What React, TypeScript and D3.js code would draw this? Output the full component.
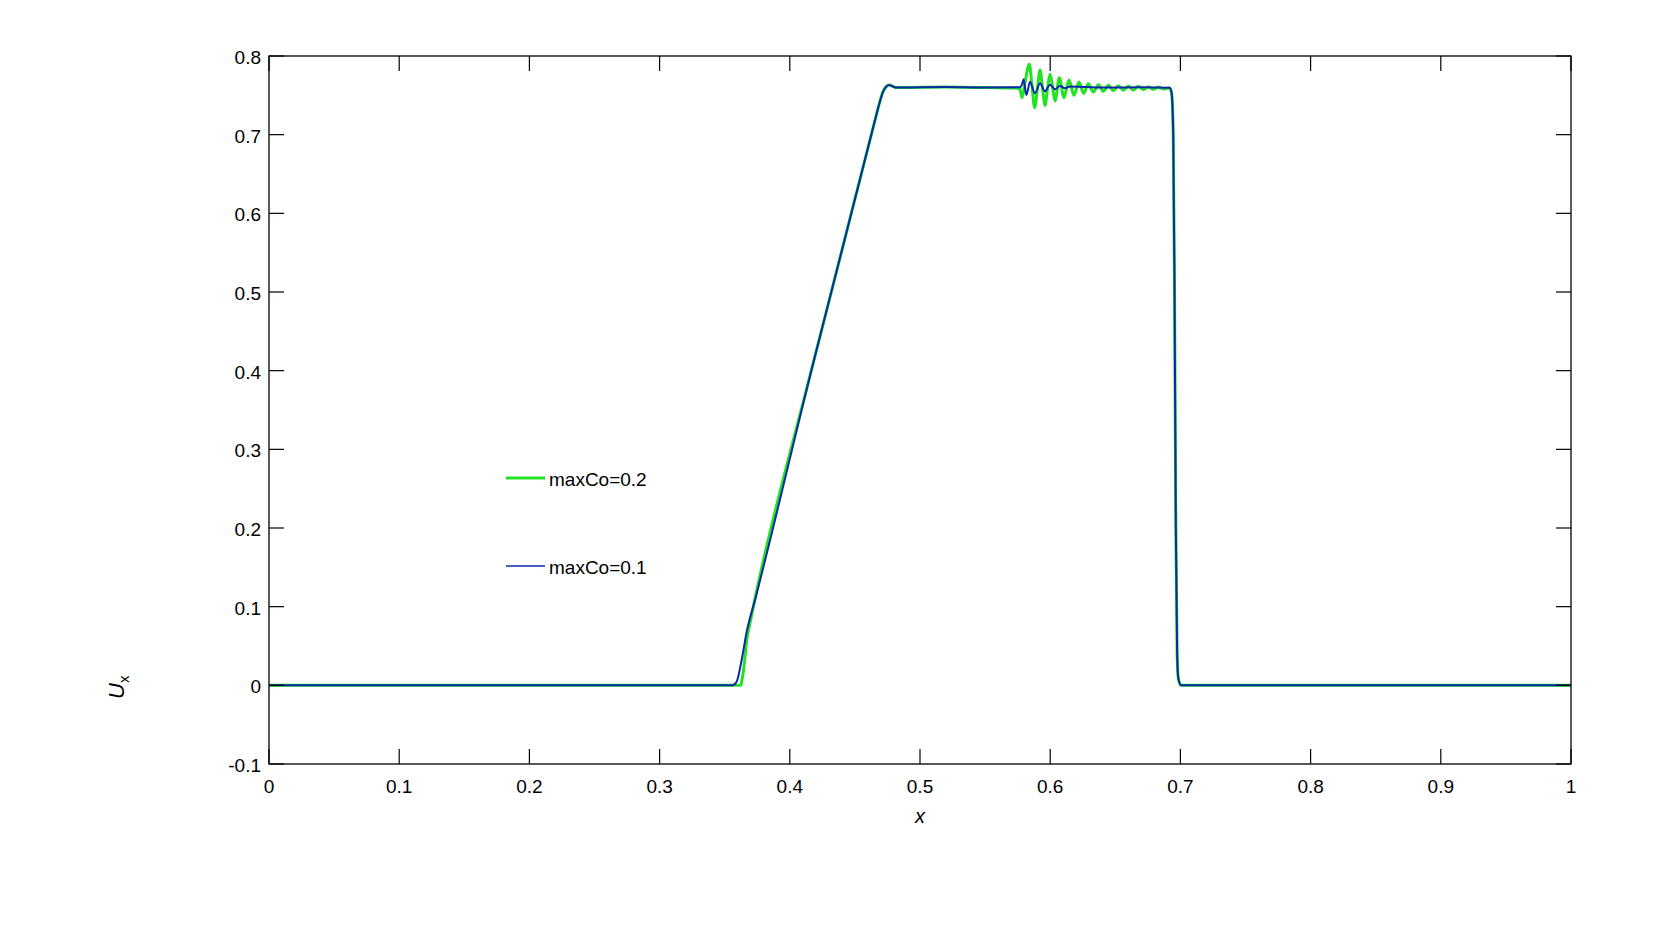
import React from "react";
import * as d3 from "d3";

const xTicks = [0, 0.1, 0.2, 0.3, 0.4, 0.5, 0.6, 0.7, 0.8, 0.9, 1];
const yTicks = [-0.1, 0, 0.1, 0.2, 0.3, 0.4, 0.5, 0.6, 0.7, 0.8];
const xTickLabels = ["0", "0.1", "0.2", "0.3", "0.4", "0.5", "0.6", "0.7", "0.8", "0.9", "1"];
const yTickLabels = ["-0.1", "0", "0.1", "0.2", "0.3", "0.4", "0.5", "0.6", "0.7", "0.8"];

const seriesNames = ["maxCo=0.2", "maxCo=0.1"];

// maxCo=0.2 (green)
const greenX = [
  0, 0.36, 0.3625, 0.363, 0.3643, 0.3656, 0.3669, 0.3694, 0.372, 0.4165, 0.466, 0.469, 0.4715, 0.474, 0.4765,
  0.479, 0.482, 0.49, 0.52, 0.55, 0.57425, 0.5768, 0.57834, 0.58065, 0.58397, 0.58602, 0.58807, 0.59012,
  0.59217, 0.59421, 0.59601, 0.59805, 0.59985, 0.6019, 0.60369, 0.60702, 0.6106, 0.61444, 0.61828, 0.62212,
  0.6257, 0.62929, 0.63313, 0.63697, 0.64081, 0.64465, 0.64849, 0.65233, 0.65617, 0.66001, 0.66385, 0.66769,
  0.67153, 0.67537, 0.67921, 0.68305, 0.68689, 0.69073, 0.692, 0.6933, 0.6945, 0.6955, 0.6965, 0.6975,
  0.6985, 0.7005, 1,
];
const greenY = [
  0, 0, 0.0005, 0.0046, 0.0173, 0.0364, 0.0576, 0.0788, 0.1, 0.4, 0.722, 0.741, 0.754, 0.761, 0.763,
  0.7615, 0.7598, 0.76, 0.7605, 0.7598, 0.7593, 0.7576, 0.747, 0.7661, 0.7894, 0.7619, 0.7343, 0.7576,
  0.7822, 0.7576, 0.7373, 0.7598, 0.7767, 0.7598, 0.7428, 0.7725, 0.747, 0.7695, 0.75, 0.767,
  0.7525, 0.7648, 0.7542, 0.7636, 0.7551, 0.7627, 0.7559, 0.7623, 0.7564, 0.7619, 0.7568, 0.7614,
  0.7572, 0.761, 0.7576, 0.7606, 0.7581, 0.7593, 0.7585, 0.752, 0.7, 0.5, 0.2, 0.04,
  0.008, 0, 0,
];

// maxCo=0.1 (blue)
const blueX = [
  0, 0.355, 0.3566, 0.3592, 0.363, 0.3669, 0.3733, 0.4165, 0.466, 0.469, 0.4715, 0.474, 0.4765, 0.479,
  0.482, 0.49, 0.52, 0.55, 0.5768, 0.5786, 0.5796, 0.5817, 0.5845, 0.5883, 0.5922, 0.596, 0.5998, 0.6037,
  0.6075, 0.6114, 0.6152, 0.64, 0.67, 0.692, 0.6933, 0.6945, 0.6955, 0.6965, 0.6975, 0.6985, 0.7005, 1,
];
const blueY = [
  0, 0, 0.0005, 0.0046, 0.0322, 0.0682, 0.1086, 0.4, 0.722, 0.741, 0.754, 0.761, 0.763, 0.7615,
  0.7598, 0.76, 0.7605, 0.7598, 0.7602, 0.7653, 0.7704, 0.7504, 0.7674, 0.7526, 0.7653, 0.7551, 0.7636, 0.7577,
  0.7619, 0.7589, 0.7611, 0.7598, 0.7603, 0.7595, 0.752, 0.7, 0.5, 0.2, 0.04, 0.008, 0, 0,
];

const W = 1680;
const H = 932;
const L = 269, R = 1571, T = 56, B = 764;
const FONT = "'Liberation Sans', Arial, Helvetica, sans-serif";

export default function App() {
  const x = d3.scaleLinear().domain([0, 1]).range([L, R]);
  const y = d3.scaleLinear().domain([-0.1, 0.8]).range([B, T]);
  const line = d3
    .line<[number, number]>()
    .x((d) => x(d[0]))
    .y((d) => y(d[1]))
    .curve(d3.curveMonotoneX);
  const greenPts: [number, number][] = greenX.map((v, i) => [v, greenY[i]]);
  const bluePts: [number, number][] = blueX.map((v, i) => [v, blueY[i]]);
  const tick = 15;
  const green = "#22e322";
  const blue = "#0a28a8";
  const fs = 19;

  return (
    <svg
      width={W}
      height={H}
      style={{ position: "absolute", left: 0, top: 0, background: "#fff" }}
      fontFamily={FONT}
    >
      <rect x={0} y={0} width={W} height={H} fill="#fff" />
      <defs>
        <clipPath id="plotclip">
          <rect x={L} y={T} width={R - L} height={B - T} />
        </clipPath>
      </defs>
      <g clipPath="url(#plotclip)">
        <path d={line(greenPts) || ""} fill="none" stroke={green} strokeWidth={3} strokeLinejoin="round" />
        <path d={line(bluePts) || ""} fill="none" stroke={blue} strokeWidth={2} strokeLinejoin="round" />
      </g>
      {/* frame */}
      <rect x={L} y={T} width={R - L} height={B - T} fill="none" stroke="#000" strokeWidth={1.3} />
      {/* x ticks */}
      {xTicks.map((t, i) => (
        <g key={"xt" + i}>
          <line x1={x(t)} x2={x(t)} y1={B} y2={B - tick} stroke="#000" strokeWidth={1.2} />
          <line x1={x(t)} x2={x(t)} y1={T} y2={T + tick} stroke="#000" strokeWidth={1.2} />
          <text x={x(t)} y={B + 29} textAnchor="middle" fontSize={fs} fill="#000">
            {xTickLabels[i]}
          </text>
        </g>
      ))}
      {/* y ticks */}
      {yTicks.map((t, i) => (
        <g key={"yt" + i}>
          <line x1={L} x2={L + tick} y1={y(t)} y2={y(t)} stroke="#000" strokeWidth={1.2} />
          <line x1={R} x2={R - tick} y1={y(t)} y2={y(t)} stroke="#000" strokeWidth={1.2} />
          <text x={L - 8} y={y(t) + 8} textAnchor="end" fontSize={fs} fill="#000">
            {yTickLabels[i]}
          </text>
        </g>
      ))}
      {/* axis labels */}
      <text x={(L + R) / 2} y={823} textAnchor="middle" fontSize={20} fontStyle="italic" fill="#000">
        x
      </text>
      <text transform="translate(124,699) rotate(-90)" fontSize={22} fill="#000">
        <tspan fontStyle="italic">U</tspan>
        <tspan fontSize={15} dy={5}>x</tspan>
      </text>
      {/* legend */}
      <line x1={506} x2={545} y1={478} y2={478} stroke={green} strokeWidth={3} />
      <text x={549} y={486} fontSize={fs} fill="#000">
        {seriesNames[0]}
      </text>
      <line x1={506} x2={545} y1={566} y2={566} stroke={blue} strokeWidth={1.3} />
      <text x={549} y={574} fontSize={fs} fill="#000">
        {seriesNames[1]}
      </text>
    </svg>
  );
}
